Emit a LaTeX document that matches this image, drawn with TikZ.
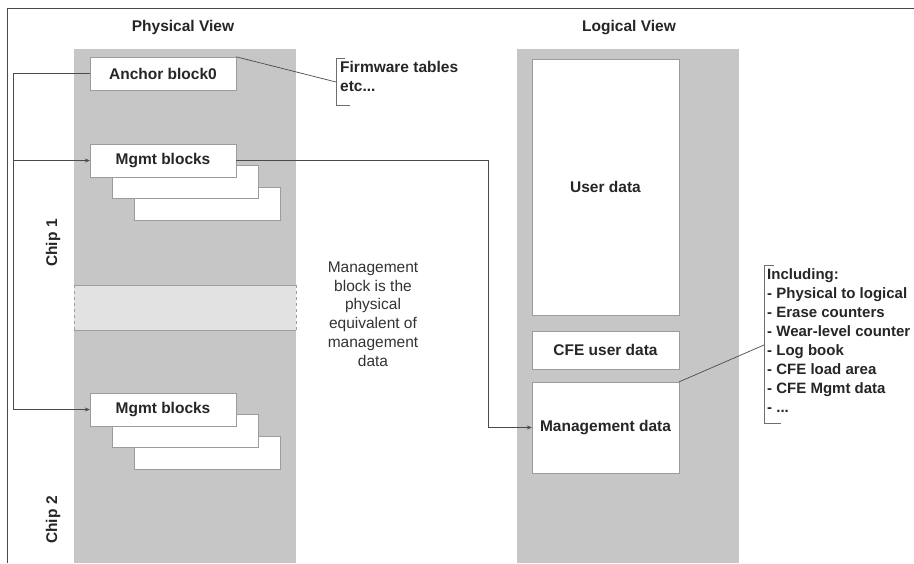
\documentclass[tikz,border=0pt]{standalone}
\usepackage{fontspec}
\setmainfont{Liberation Sans}
\usetikzlibrary{arrows.meta}
\definecolor{colgray}{HTML}{C6C6C6}
\definecolor{bandgray}{HTML}{E2E2E2}
\definecolor{linegray}{HTML}{4A4A4A}
\definecolor{boxedge}{HTML}{9C9C9C}
\tikzset{
  txt/.style={font=\fontsize{15.5}{18.7}\selectfont\bfseries, inner sep=0pt, text=black!85},
  plain/.style={font=\fontsize{15.5}{18.7}\selectfont, inner sep=0pt, text=black!80, align=center},
  blk/.style={draw=boxedge, fill=white, inner sep=0pt, minimum width=146pt, minimum height=33pt, txt},
  conn/.style={draw=linegray, line width=0.7pt},
  arr/.style={conn, -{Stealth[length=5pt,width=4pt]}},
  brk/.style={draw=linegray!80, line width=0.7pt}
}
\begin{document}
\begin{tikzpicture}[x=1pt,y=-1pt]
\useasboundingbox (0,0) rectangle (914,563);
\fill[white] (0,0) rectangle (914,563);
% frame
\draw[linegray, line width=1pt] (914,8) -- (7,8) -- (7,563);
% titles
\node[txt] (ptitle) at (183,27) {Physical View};
\node[txt] (ltitle) at (629,28) {Logical View};
% physical column
\fill[colgray] (74,49) rectangle (296,285);
\fill[bandgray] (74,285) rectangle (296,330);
\fill[colgray] (74,330) rectangle (296,563);
\draw[boxedge] (74,285) -- (296,285);
\draw[boxedge] (74,330) -- (296,330);
\draw[boxedge, dashed] (74,285) -- (74,330);
\draw[boxedge, dashed] (296,285) -- (296,330);
% logical column
\fill[colgray] (517,49) rectangle (739,563);
% chip labels
\node[txt, rotate=90] (chip1) at (53,243) {Chip 1};
\node[txt, rotate=90] (chip2) at (53,520) {Chip 2};
% physical blocks
\node[blk] (anchor) at (163,73.5) {Anchor block0};
\node[blk] (mg1c) at (207,204) {};
\node[blk] (mg1b) at (185,181.5) {};
\node[blk] (mg1) at (163,160.5) {Mgmt blocks};
\node[blk] (mg2c) at (207,453) {};
\node[blk] (mg2b) at (185,430.5) {};
\node[blk] (mg2) at (163,409.5) {Mgmt blocks};
% logical blocks
\node[blk, minimum width=147pt, minimum height=256pt] (user) at (605.5,187) {User data};
\node[blk, minimum width=147pt, minimum height=38pt] (cfe) at (605.5,350) {CFE user data};
\node[blk, minimum width=147pt, minimum height=91pt] (mgd) at (605.5,427.5) {Management data};
% middle text
\node[plain] (note) at (373,314) {Management\\block is the\\physical\\equivalent of\\management\\data};
% firmware annotation
\node[txt, anchor=north west, align=left] (fw) at (340,61) {Firmware tables\\etc...};
\coordinate (fwb) at (336,82);
\draw[brk] (345,58) -- (336,58) -- (336,105) -- (350,105);
\draw[conn] (anchor.north east) -- (fwb);
% including annotation
\node[txt, anchor=north west, align=left, font=\fontsize{15}{19}\selectfont\bfseries] (incl) at (767,268) {Including:\\- Physical to logical\\- Erase counters\\- Wear-level counter\\- Log book\\- CFE load area\\- CFE Mgmt data\\- ...};
\coordinate (inb) at (764,345);
\draw[brk] (774,265) -- (764,265) -- (764,423) -- (781,423);
\draw[conn] (mgd.north east) -- (inb);
% left bus
\coordinate (j1) at (13,73.5);
\coordinate (j2) at (13,160.5);
\coordinate (j3) at (13,409.5);
\draw[conn] (anchor.west) -- (j1) -- (j3);
\draw[arr] (j2) -- (mg1.west);
\draw[arr] (j3) -- (mg2.west);
% to management data
\coordinate (k1) at (488,160.5);
\coordinate (k2) at (488,427.5);
\draw[arr] (mg1.east) -- (k1) -- (k2) -- (mgd.west);
\end{tikzpicture}
\end{document}
